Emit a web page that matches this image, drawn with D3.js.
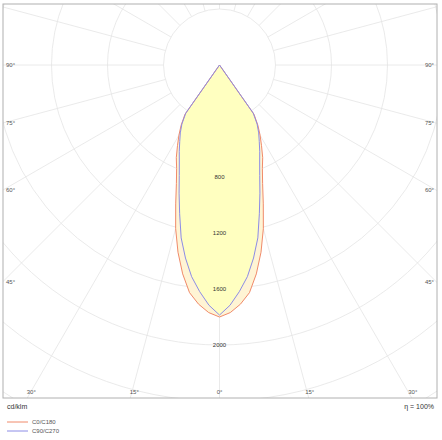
<!DOCTYPE html>
<html><head><meta charset="utf-8">
<script src="https://cdn.jsdelivr.net/npm/d3@7"></script>
<style>body{margin:0;background:#fff}text{font-family:"Liberation Sans",Arial,sans-serif}</style>
</head><body><div id="chart"></div>
<script>
// gamma angles (deg from nadir) and intensities in cd/klm
const gammas = [0, 2.5, 5, 7.5, 10, 12.5, 15, 17.5, 20, 22.5, 25, 27.5, 30, 32.5, 35, 40, 90, 180];
const c0c180 = [1800, 1770, 1715, 1640, 1515, 1370, 1210, 1040, 900, 800, 730, 650, 580, 510, 430, 0, 0, 0];
const c90c270 = [1786, 1718, 1625, 1525, 1400, 1265, 1100, 960, 840, 750, 680, 615, 560, 500, 420, 0, 0, 0];
const ringValues = [400, 800, 1200, 1600, 2000, 2400, 2800, 3200, 3600];
const ringLabels = [800, 1200, 1600, 2000];
const seriesNames = ["C0/C180", "C90/C270"];
const seriesColors = ["#f08a6a", "#8c8ce6"];

const W = 442, H = 440;
const frame = { x0: 3, y0: 4, x1: 437, y1: 398 };
const cx = 219.5, cy = 65;
const r = d3.scaleLinear().domain([0, 400]).range([0, 56]);

const svg = d3.select("#chart").append("svg").attr("width", W).attr("height", H);
svg.append("defs").append("clipPath").attr("id", "clip")
    .append("rect").attr("x", frame.x0).attr("y", frame.y0)
    .attr("width", frame.x1 - frame.x0).attr("height", frame.y1 - frame.y0);

const g = svg.append("g").attr("clip-path", "url(#clip)");
const c = g.append("g").attr("transform", "translate(" + cx + "," + cy + ")");

// rings
c.selectAll("circle.ring").data(ringValues).enter().append("circle")
    .attr("r", d => r(d)).attr("fill", "none").attr("stroke", "#e4e4e4").attr("stroke-width", 0.8);

// radial lines every 15 deg, starting at first ring
const spokes = d3.range(0, 360, 15);
c.selectAll("line.spoke").data(spokes).enter().append("line")
    .attr("x1", d => r(400) * Math.sin(d * Math.PI / 180))
    .attr("y1", d => r(400) * Math.cos(d * Math.PI / 180))
    .attr("x2", d => 800 * Math.sin(d * Math.PI / 180))
    .attr("y2", d => 800 * Math.cos(d * Math.PI / 180))
    .attr("stroke", "#e4e4e4").attr("stroke-width", 0.8);

// full symmetric polygon for a series: angle measured from nadir, rotated so 0 points down
function pts(vals) {
    const right = gammas.map((a, i) => [Math.PI - a * Math.PI / 180, r(vals[i])]);
    const left = gammas.slice().reverse().map((a, i) => [Math.PI + a * Math.PI / 180, r(vals[vals.length - 1 - i])]);
    return right.concat(left);
}
const line = d3.lineRadial().angle(d => d[0]).radius(d => d[1]).curve(d3.curveLinearClosed);

c.append("path").attr("d", line(pts(c0c180))).attr("fill", "#fff4d4");
c.append("path").attr("d", line(pts(c90c270))).attr("fill", "#ffffc0");
[c0c180, c90c270].forEach((v, i) => {
    c.append("path").attr("d", line(pts(v))).attr("fill", "none")
        .attr("stroke", seriesColors[i]).attr("stroke-width", 1);
});

// ring labels
c.selectAll("text.rl").data(ringLabels).enter().append("text")
    .attr("x", 0).attr("y", d => r(d) + 2).attr("text-anchor", "middle")
    .attr("font-size", 6).attr("fill", "#333").text(d => d);

// frame
svg.append("rect").attr("x", frame.x0).attr("y", frame.y0)
    .attr("width", frame.x1 - frame.x0).attr("height", frame.y1 - frame.y0)
    .attr("fill", "none").attr("stroke", "#b0b0b0");

// angle labels where spokes meet the frame
const sideAngles = [90, 75, 60, 45];
sideAngles.forEach(a => {
    const y = cy + (cx - frame.x0) / Math.tan(a * Math.PI / 180);
    svg.append("text").attr("x", 6).attr("y", y + 2).attr("font-size", 6).attr("fill", "#555").text(a + "°");
    svg.append("text").attr("x", 434).attr("y", y + 2).attr("text-anchor", "end").attr("font-size", 6).attr("fill", "#555").text(a + "°");
});
[-30, -15, 0, 15, 30].forEach(a => {
    const x = cx + (frame.y1 - cy) * Math.tan(a * Math.PI / 180);
    svg.append("text").attr("x", x + (a < 0 ? 4 : a > 0 ? 1 : 0)).attr("y", 394).attr("text-anchor", "middle")
        .attr("font-size", 6).attr("fill", "#555").text(Math.abs(a) + "°");
});

svg.append("text").attr("x", 7).attr("y", 409).attr("font-size", 7).attr("fill", "#333").text("cd/klm");
svg.append("text").attr("x", 434).attr("y", 409).attr("text-anchor", "end").attr("font-size", 7).attr("fill", "#333").text("η = 100%");

seriesNames.forEach((n, i) => {
    const y = 422 + i * 9;
    svg.append("line").attr("x1", 7).attr("x2", 28).attr("y1", y).attr("y2", y).attr("stroke", seriesColors[i]);
    svg.append("text").attr("x", 32).attr("y", y + 2).attr("font-size", 6).attr("fill", "#555").text(n);
});
</script></body></html>
